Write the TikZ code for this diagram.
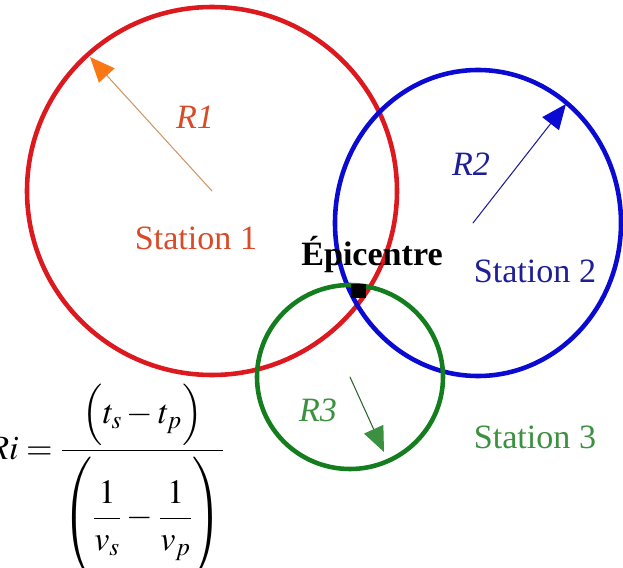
\documentclass[tikz,border=0pt]{standalone}
\usepackage{amsmath}
\usepackage{mathptmx}
\usepackage[no-math]{fontspec}
\setmainfont{Liberation Serif}
\usetikzlibrary{arrows.meta}
\definecolor{cRed}{RGB}{220,25,30}
\definecolor{cBlue}{RGB}{10,10,210}
\definecolor{cGreen}{RGB}{20,125,30}
\definecolor{tRed}{RGB}{215,75,40}
\definecolor{tBlue}{RGB}{30,30,150}
\definecolor{tGreen}{RGB}{60,145,65}
\definecolor{hOrange}{RGB}{250,120,20}
\definecolor{lOrange}{RGB}{205,150,100}
\begin{document}
\begin{tikzpicture}[line join=round,line cap=round,x=0.02cm,y=-0.02cm]
\tikzset{every node/.style={inner sep=0pt,font=\fontsize{19.4}{23}\selectfont},
ring/.style={line width=2.6pt},
rad/.style={line width=0.6pt},
lab/.style={anchor=base,font=\fontsize{19.4}{23}\selectfont\itshape}}
\useasboundingbox (0,0) rectangle (623,568);
\coordinate (S1) at (212,191);
\coordinate (S2) at (478,223);
\coordinate (S3) at (350,377);
\coordinate (T1) at (90,57);
\coordinate (T2) at (566,104);
\coordinate (T3) at (384,452);
\draw[ring,cRed] (S1) circle[x radius=185,y radius=184];
\draw[ring,cBlue] (S2) circle[x radius=143,y radius=153];
\draw[ring,cGreen] (S3) circle[x radius=93,y radius=92];
\draw[rad,lOrange,-{Triangle[length=0.5cm,width=0.42cm,color=hOrange]}] (S1)--(T1);
\draw[rad,tBlue,-{Triangle[length=0.5cm,width=0.42cm,color=cBlue]}] (473,223)--(T2);
\draw[rad,tGreen!70!black,-{Triangle[length=0.5cm,width=0.42cm,color=tGreen]}] (S3)--(T3);
\node[lab,tRed] (r1) at (195,128) {R1};
\node[lab,tBlue] (r2) at (471,175) {R2};
\node[lab,tGreen] (r3) at (318,421) {R3};
\node[anchor=base,tRed] (st1) at (196,249) {Station 1};
\node[anchor=base,tBlue] (st2) at (535,282) {Station 2};
\node[anchor=base,tGreen] (st3) at (535,448) {Station 3};
\node[anchor=base,font=\fontsize{19.4}{23}\selectfont\bfseries] (ep) at (372,265) {Épicentre};
\node[fill=black,minimum size=0.3cm] (E) at (358,291) {};
\node[anchor=base west] (F) at (-12,459)
{$\displaystyle Ri=\frac{\left(\rule[-0.6em]{0pt}{1.7em}t_s-t_p\right)}{\left(\rule[-1.6em]{0pt}{3.7em}\dfrac{1}{v_s}-\dfrac{1}{v_p}\right)}$};
\end{tikzpicture}
\end{document}
